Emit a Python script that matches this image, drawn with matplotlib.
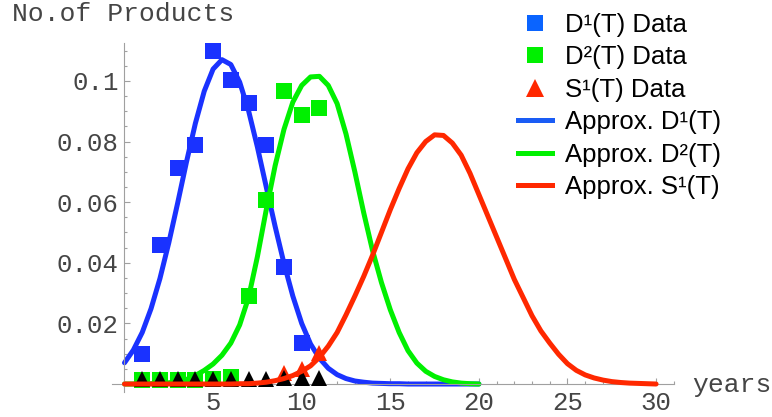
import numpy as np
import matplotlib
matplotlib.use("Agg")
import matplotlib.pyplot as plt
from matplotlib.ticker import MultipleLocator, FixedLocator, FixedFormatter

# scatter data (years 1..11)
years_d1 = [1, 2, 3, 4, 5, 6, 7, 8, 9, 10]
d1_data = [0.0099, 0.0459, 0.0712, 0.0789, 0.1097, 0.1003, 0.0928, 0.0789, 0.0387, 0.0136]

years_d2 = [1, 2, 3, 4, 5, 6, 7, 8, 9, 10, 11]
d2_data = [0.0014, 0.0014, 0.0014, 0.0014, 0.0015, 0.0022, 0.0290, 0.0607, 0.0965, 0.0888, 0.0910]

years_s1 = [9, 10, 11]
s1_data = [0.0035, 0.0048, 0.0103]

years_other = [1, 2, 3, 4, 5, 6, 7, 8, 9, 10, 11]
other_data = [0.0017, 0.0018, 0.0018, 0.0017, 0.0018, 0.0018, 0.0018, 0.0018, 0.0019, 0.0019, 0.0021]

# approximation curves, every half year
t_d = [0, 0.5, 1, 1.5, 2, 2.5, 3, 3.5, 4, 4.5, 5, 5.5, 6, 6.5, 7, 7.5, 8, 8.5, 9, 9.5,
       10, 10.5, 11, 11.5, 12, 12.5, 13, 13.5, 14, 14.5, 15, 15.5, 16, 16.5, 17, 17.5,
       18, 18.5, 19, 19.5, 20]
d1_fit = [0.0070, 0.0112, 0.0170, 0.0249, 0.0348, 0.0466, 0.0597, 0.0733, 0.0860, 0.0966,
          0.1039, 0.1070, 0.1054, 0.0996, 0.0902, 0.0782, 0.0650, 0.0520, 0.0398, 0.0290,
          0.0200, 0.0132, 0.0085, 0.0052, 0.0031, 0.0018, 0.0010, 0.0006, 0.0003, 0.0002,
          0.0001, 0.0001, 0.0, 0.0, 0.0, 0.0, 0.0, 0.0, 0.0, 0.0, 0.0]
d2_fit = [0.0000, 0.0000, 0.0000, 0.0001, 0.0002, 0.0004, 0.0008, 0.0015, 0.0028, 0.0045,
          0.0066, 0.0095, 0.0135, 0.0195, 0.0285, 0.0420, 0.0575, 0.0720, 0.0840, 0.0930,
          0.0985, 0.1013, 0.1015, 0.0985, 0.0925, 0.0825, 0.0700, 0.0565, 0.0440, 0.0335,
          0.0245, 0.0170, 0.0110, 0.0069, 0.0042, 0.0025, 0.0014, 0.0007, 0.0003, 0.0001, 0.0]

t_s = [0, 0.5, 1, 1.5, 2, 2.5, 3, 3.5, 4, 4.5, 5, 5.5, 6, 6.5, 7, 7.5, 8, 8.5, 9, 9.5,
       10, 10.5, 11, 11.5, 12, 12.5, 13, 13.5, 14, 14.5, 15, 15.5, 16, 16.5, 17, 17.5,
       18, 18.5, 19, 19.5, 20, 20.5, 21, 21.5, 22, 22.5, 23, 23.5, 24, 24.5, 25, 25.5,
       26, 26.5, 27, 27.5, 28, 28.5, 29, 29.5, 30]
s1_fit = [0.0, 0.0, 0.0, 0.0, 0.0, 0.0, 0.0, 0.0, 0.0, 0.0, 0.0, 0.0, 0.0, 0.0001, 0.0001,
          0.0003, 0.0006, 0.0011, 0.0018, 0.0028, 0.0042, 0.0060, 0.0088, 0.0125, 0.0170,
          0.0228, 0.0290, 0.0355, 0.0425, 0.0500, 0.0575, 0.0645, 0.0710, 0.0763, 0.0800,
          0.0822, 0.0820, 0.0795, 0.0755, 0.0695, 0.0625, 0.0555, 0.0485, 0.0415, 0.0345,
          0.0285, 0.0225, 0.0175, 0.0135, 0.0098, 0.0067, 0.0045, 0.0030, 0.0020, 0.0013,
          0.0008, 0.0005, 0.0003, 0.0002, 0.0001, 0.0]

y_ticks = [0.02, 0.04, 0.06, 0.08, 0.1]
y_tick_labels = ["0.02", "0.04", "0.06", "0.08", "0.1"]
x_ticks = [5, 10, 15, 20, 25, 30]

BLUE = "#1a32ff"
GREEN = "#00f000"
RED = "#ff2800"
AXIS = "#a0a0a0"
TXT = "#454545"
MONO = "Liberation Mono"

fig = plt.figure(figsize=(7.72, 4.17), dpi=100)
ax = fig.add_axes([0.1452, 0.0602, 0.7276, 0.8367])
ax.set_xlim(-0.7, 31.0)
ax.set_ylim(-0.0026, 0.1125)

ax.plot(t_d, d1_fit, color=BLUE, lw=3.6, zorder=2, solid_capstyle="round", solid_joinstyle="round")
ax.plot(t_d, d2_fit, color=GREEN, lw=3.6, zorder=2, solid_capstyle="round", solid_joinstyle="round")
ax.plot(years_d1, d1_data, "s", color=BLUE, ms=11.5, mew=0, zorder=3)
ax.plot(years_d2, d2_data, "s", color=GREEN, ms=11.5, mew=0, zorder=3)
ax.plot(years_s1, s1_data, "^", color=RED, ms=11.5, mew=0, zorder=3)
ax.plot(years_other, other_data, "^", color="black", ms=11.5, mew=0, zorder=4)
ax.plot(t_s, s1_fit, color=RED, lw=3.6, zorder=5, solid_capstyle="round", solid_joinstyle="round")

# Mathematica-style axes crossing at the origin
for s in ["top", "right"]:
    ax.spines[s].set_visible(False)
ax.spines["left"].set_position(("data", 0))
ax.spines["bottom"].set_position(("data", 0))
for s in ["left", "bottom"]:
    ax.spines[s].set_color(AXIS)
    ax.spines[s].set_linewidth(0.8)

ax.xaxis.set_major_locator(FixedLocator(x_ticks))
ax.xaxis.set_minor_locator(MultipleLocator(1))
ax.yaxis.set_major_locator(FixedLocator(y_ticks))
ax.yaxis.set_major_formatter(FixedFormatter(y_tick_labels))
ax.yaxis.set_minor_locator(MultipleLocator(0.005))
ax.tick_params(which="both", direction="in", color=AXIS, width=0.8)
ax.tick_params(which="major", length=4.5)
ax.tick_params(which="minor", length=2.5)
ax.tick_params(axis="x", which="major", pad=5)
ax.tick_params(axis="y", which="major", pad=4)
for lab in ax.get_xticklabels() + ax.get_yticklabels():
    lab.set_family(MONO)
    lab.set_fontsize(18.5)
    lab.set_color(TXT)

fig.text(11.7 / 772, 1 - 20.7 / 417, "No.of Products", family=MONO, fontsize=19,
         color=TXT, ha="left", va="baseline")
fig.text(691.7 / 772, 1 - 391.7 / 417, "years", family=MONO, fontsize=19,
         color=TXT, ha="left", va="baseline")

# legend
leg_handles = [
    plt.Line2D([], [], ls="", marker="s", color="#0a64ff", ms=12, mew=0),
    plt.Line2D([], [], ls="", marker="s", color=GREEN, ms=12, mew=0),
    plt.Line2D([], [], ls="", marker="^", color=RED, ms=13, mew=0),
    plt.Line2D([], [], color="#1a5cf5", lw=3.6),
    plt.Line2D([], [], color=GREEN, lw=3.6),
    plt.Line2D([], [], color=RED, lw=3.6),
]
leg_labels = ["D¹(T) Data", "D²(T) Data", "S¹(T) Data",
              "Approx. D¹(T)", "Approx. D²(T)", "Approx. S¹(T)"]
fig.legend(leg_handles, leg_labels, loc="upper left",
           bbox_to_anchor=(518 / 772, 1 - 13 / 417), frameon=False,
           prop={"family": "Liberation Sans", "size": 18.5},
           handlelength=1.32, handletextpad=0.5, labelspacing=0.33,
           borderpad=0, borderaxespad=0)

fig.savefig("out.png", dpi=100)
